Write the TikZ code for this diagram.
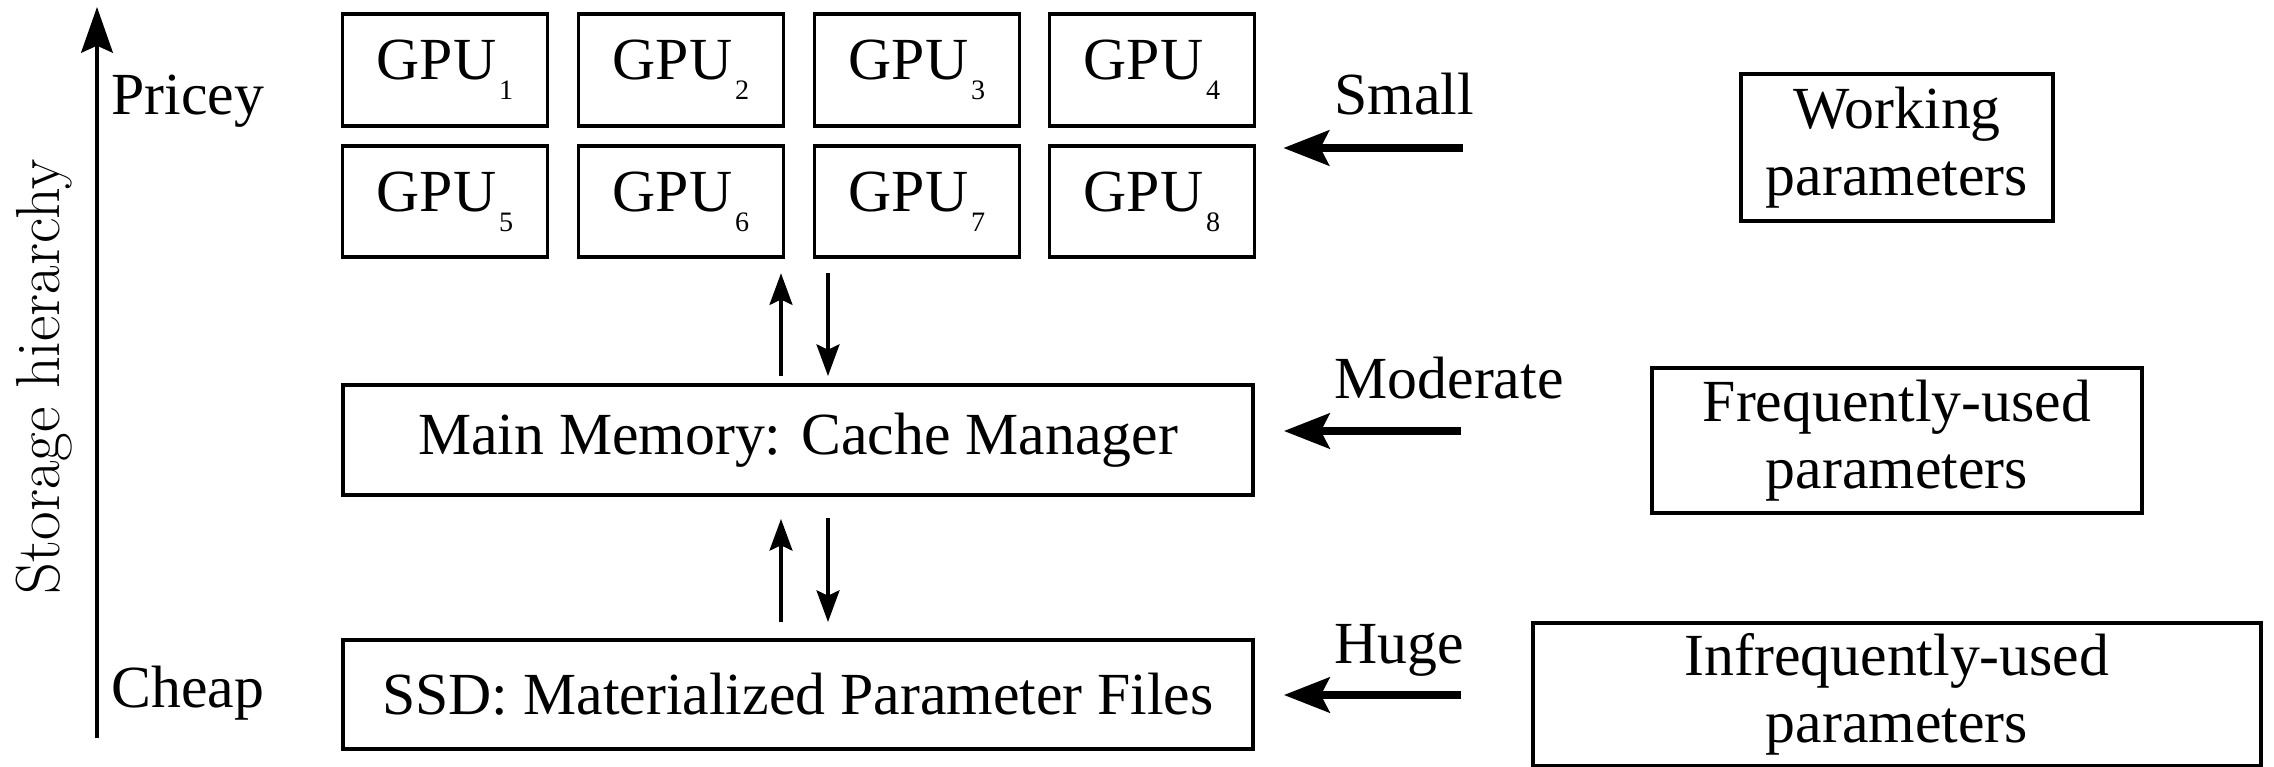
\documentclass[tikz,border=0pt]{standalone}
\usepackage{fontspec}
% keep Latin Modern at hand for the axis title
\edef\lmfam{\rmdefault}
\setmainfont{Liberation Serif}
\usetikzlibrary{arrows.meta}

\newcommand{\lmtext}{\fontfamily{\lmfam}\selectfont}
\newcommand{\gpu}[1]{GPU\kern0.8pt\raisebox{-5.7pt}{\fontsize{8}{8}\selectfont #1}}

\begin{document}
\begin{tikzpicture}[x=0.1mm, y=-0.1mm,
  every node/.style={font=\fontsize{17}{19}\selectfont, inner sep=0pt},
  box/.style={draw, line width=1.1pt, align=center},
  gpubox/.style={box, minimum width=20.5mm, minimum height=11.15mm},
  tierbox/.style={box, minimum width=91mm, minimum height=11mm},
  kindbox/.style={box},
  conn/.style={line width=1.1pt, -{Stealth[length=9pt, width=6.5pt, inset=1.5pt]}},
  feed/.style={line width=2pt, -{Stealth[length=13pt, width=10pt, inset=2.5pt]}},
  axis/.style={line width=1.1pt, -{Stealth[length=13pt, width=9pt, inset=2pt]}},
  lbl/.style={anchor=base west}
]
\useasboundingbox (0,0) rectangle (2274,767);

% storage axis
\coordinate (axisbot) at (97,738);
\coordinate (axistop) at (97,7);
\draw[axis] (axisbot) -- (axistop);
\node[rotate=90, font=\lmtext\fontsize{17.7}{18}\selectfont] (hier) at (44,377) {Storage hierarchy};
\node[lbl] (pricey) at (111,115) {Pricey};
\node[lbl] (cheap) at (111,707) {Cheap};

% GPUs
\node[gpubox] (gpu1) at (445,70) {\gpu{1}};
\node[gpubox] (gpu2) at (681,70) {\gpu{2}};
\node[gpubox] (gpu3) at (917,70) {\gpu{3}};
\node[gpubox] (gpu4) at (1152,70) {\gpu{4}};
\node[gpubox] (gpu5) at (445,201.5) {\gpu{5}};
\node[gpubox] (gpu6) at (681,201.5) {\gpu{6}};
\node[gpubox] (gpu7) at (917,201.5) {\gpu{7}};
\node[gpubox] (gpu8) at (1152,201.5) {\gpu{8}};

% memory tiers
\node[tierbox] (mm) at (798,440) {Main Memory: Cache Manager};
\node[tierbox, minimum height=10.9mm] (ssd) at (798,694.5) {SSD: Materialized Parameter Files};

% transfers between tiers
\coordinate (upx) at (781,0);
\coordinate (dnx) at (828,0);
\draw[conn, shorten <=0.7mm, shorten >=1.4mm] (mm.north -| upx) -- (gpu6.south -| upx);
\draw[conn, shorten <=1.4mm, shorten >=0.7mm] (gpu7.south -| dnx) -- (mm.north -| dnx);
\draw[conn, shorten <=1.6mm, shorten >=2.2mm] (ssd.north -| upx) -- (mm.south -| upx);
\draw[conn, shorten <=2.1mm, shorten >=1.6mm] (mm.south -| dnx) -- (ssd.north -| dnx);

% parameter kinds
\node[kindbox, minimum width=31.2mm, minimum height=14.7mm] (work) at (1897,147.5) {Working\\parameters};
\node[kindbox, minimum width=49mm, minimum height=14.5mm] (freq) at (1897,440.5) {Frequently-used\\parameters};
\node[kindbox, minimum width=72.8mm, minimum height=14.3mm] (infreq) at (1897,694.5) {Infrequently-used\\parameters};

% sizes flowing in
\coordinate (srcS) at (1463,148);
\coordinate (srcM) at (1461,431);
\coordinate (srcH) at (1461,695);
\draw[feed, shorten >=2.7mm] (srcS) -- (srcS -| gpu8.east);
\draw[feed, shorten >=2.9mm] (srcM) -- (srcM -| mm.east);
\draw[feed, shorten >=2.9mm] (srcH) -- (srcH -| ssd.east);
\node[lbl] (small) at (1334,115) {Small};
\node[lbl] (moderate) at (1334,398) {Moderate};
\node[lbl] (huge) at (1334,663) {Huge};
\end{tikzpicture}
\end{document}
